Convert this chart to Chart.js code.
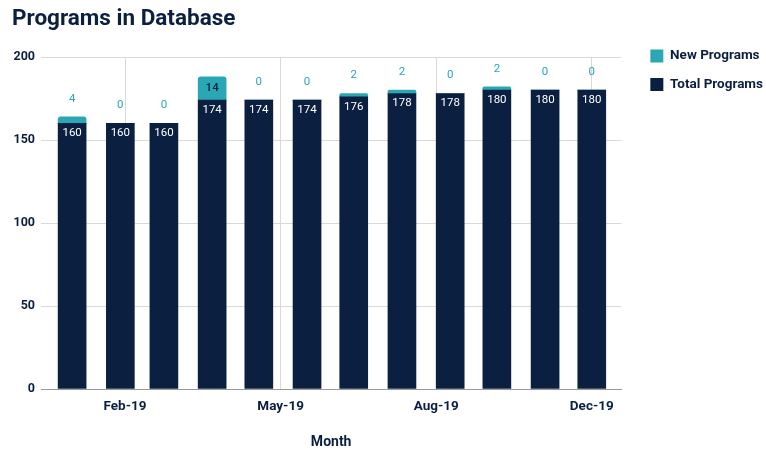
<!DOCTYPE html>
<html>
<head>
<meta charset="utf-8">
<script src="https://cdn.jsdelivr.net/npm/chart.js@4.4.0/dist/chart.umd.min.js"></script>
<style>
  html, body { margin: 0; padding: 0; background: #fff; }
  #wrap { width: 766px; height: 451px; }
</style>
</head>
<body>
<div id="wrap"><canvas id="programs"></canvas></div>
<script>
// months of 2019, placed on a day axis (day 0 = 1 Jan)
const months = ['Jan-19', 'Feb-19', 'Mar-19', 'Apr-19', 'May-19', 'Jun-19',
  'Jul-19', 'Aug-19', 'Sep-19', 'Oct-19', 'Nov-19', 'Dec-19'];
const monthDays = [0, 31, 59, 90, 120, 151, 181, 212, 243, 273, 304, 334];
const totalPrograms = [160, 160, 160, 174, 174, 174, 176, 178, 178, 180, 180, 180];
const newPrograms = [4, 0, 0, 14, 0, 0, 2, 2, 0, 2, 0, 0];
const xTickDays = [34, 134, 234, 334];
const xTickLabels = ['Feb-19', 'May-19', 'Aug-19', 'Dec-19'];
const yTicks = [0, 50, 100, 150, 200];

const NAVY = '#0b1f40';
const TEAL = '#2aa7b4';
const FONT = 'Roboto, "Noto Sans", sans-serif';

const toPoints = vals => vals.map((v, i) => ({ x: monthDays[i], y: v }));

// value labels like the sheet's data labels
const barLabels = {
  id: 'barLabels',
  afterDatasetsDraw(chart) {
    const { ctx } = chart;
    ctx.save();
    ctx.textAlign = 'center';
    ctx.textBaseline = 'middle';
    chart.data.datasets.forEach((ds, di) => {
      const meta = chart.getDatasetMeta(di);
      meta.data.forEach((bar, i) => {
        const v = ds.data[i].y;
        if (ds.label === 'Total Programs') {
          ctx.font = '11.5px ' + FONT;
          ctx.fillStyle = '#ffffff';
          ctx.fillText(String(v), bar.x, bar.y + 10);
        } else {
          const h = bar.base - bar.y;
          if (h > 16) {
            ctx.font = '500 11.5px ' + FONT;
            ctx.fillStyle = NAVY;
            ctx.fillText(String(v), bar.x, bar.y + h / 2);
          } else {
            ctx.font = '11.5px ' + FONT;
            ctx.fillStyle = TEAL;
            ctx.fillText(String(v), bar.x, bar.y - 18);
          }
        }
      });
    });
    ctx.restore();
  },
};

// nudge the legend away from the plot, leaving a gap like the original
const legendGap = {
  id: 'legendGap',
  afterLayout(chart) {
    const lg = chart.legend;
    if (!lg) return;
    lg.left += 14;
    lg.right += 14;
  },
};

new Chart('programs', {
  type: 'bar',
  data: {
    datasets: [
      {
        label: 'Total Programs',
        data: toPoints(totalPrograms),
        backgroundColor: NAVY,
        barThickness: 28,
      },
      {
        label: 'New Programs',
        data: toPoints(newPrograms),
        backgroundColor: TEAL,
        barThickness: 28,
        borderRadius: { topLeft: 3, topRight: 3 },
        borderSkipped: 'bottom',
      },
    ],
  },
  options: {
    responsive: true,
    maintainAspectRatio: false,
    animation: false,
    layout: { padding: { left: 12, right: 7, top: 6, bottom: 0 } },
    plugins: {
      title: {
        display: true,
        text: 'Programs in Database',
        align: 'start',
        color: NAVY,
        font: { family: FONT, size: 22.5, weight: 'bold' },
        padding: { top: 0, bottom: 24 },
      },
      legend: {
        position: 'right',
        align: 'start',
        reverse: true,
        title: { display: true, text: '', padding: 0, font: { size: 23.5 } },
        labels: {
          color: NAVY,
          boxWidth: 13,
          boxHeight: 13,
          padding: 15,
          font: { family: FONT, size: 13.5, weight: 'bold' },
        },
      },
      tooltip: { enabled: false },
    },
    scales: {
      x: {
        type: 'linear',
        stacked: true,
        offset: false,
        min: -20,
        max: 353,
        afterBuildTicks: scale => {
          scale.ticks = xTickDays.map(v => ({ value: v }));
        },
        ticks: {
          padding: 10,
          color: NAVY,
          font: { family: FONT, size: 13.5, weight: 'bold' },
          callback: v => xTickLabels[xTickDays.indexOf(v)],
        },
        grid: { color: '#d9d9d9', drawTicks: false, offset: false },
        border: { color: '#9a9a9a' },
        title: {
          display: true,
          text: 'Month',
          color: NAVY,
          font: { family: FONT, size: 14, weight: 'bold' },
          padding: { top: 9, bottom: 0 },
        },
      },
      y: {
        stacked: true,
        min: 0,
        max: 200,
        afterBuildTicks: scale => {
          scale.ticks = yTicks.map(v => ({ value: v }));
        },
        afterFit: scale => {
          scale.width = 29;
        },
        ticks: {
          padding: 6,
          color: NAVY,
          font: { family: FONT, size: 12.5, weight: 'bold' },
        },
        grid: { color: '#d9d9d9', drawTicks: false },
        border: { display: false },
      },
    },
  },
  plugins: [barLabels, legendGap],
});
</script>
</body>
</html>
